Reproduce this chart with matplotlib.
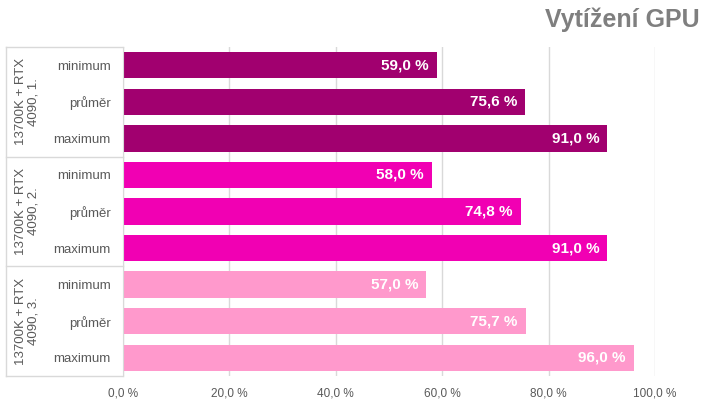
import numpy as np
import matplotlib.pyplot as plt

plt.rcParams['font.family'] = ['Liberation Sans', 'DejaVu Sans']

# data
groups = ['13700K + RTX\n4090, 1.', '13700K + RTX\n4090, 2.', '13700K + RTX\n4090, 3.']
stats = ['minimum', 'průměr', 'maximum']
values_1 = [59.0, 75.6, 91.0]
values_2 = [58.0, 74.8, 91.0]
values_3 = [57.0, 75.7, 96.0]
colors = ['#A1006F', '#F100B3', '#FF99CC']

all_vals = [values_1, values_2, values_3]

fig = plt.figure(figsize=(7.2, 4.05), dpi=100)
ax = fig.add_axes([123 / 720, 1 - 376 / 405, (655 - 123) / 720, (376 - 47) / 405])

grid_c = '#D9D9D9'
txt_c = '#595959'

labels = []
for g, vals in enumerate(all_vals):
    for s, v in enumerate(vals):
        y = g * 3 + s
        ax.barh(y, v, height=0.72, color=colors[g], zorder=2)
        ax.text(v - 1.5, y, '{:.1f} %'.format(v).replace('.', ','), ha='right', va='center',
                color='white', fontsize=11, fontweight='bold', zorder=3)
        labels.append(stats[s])

ax.set_xlim(0, 100)
ax.set_ylim(8.5, -0.5)
ax.set_yticks(np.arange(9))
ax.set_yticklabels(labels, fontsize=9.5, color=txt_c)
ax.set_xticks(np.arange(0, 101, 20))
ax.set_xticklabels(['{:.1f} %'.format(t).replace('.', ',') for t in range(0, 101, 20)],
                   fontsize=8.5, color=txt_c)
ax.tick_params(axis='y', length=0, pad=9)
ax.tick_params(axis='x', length=0, pad=8)
ax.xaxis.grid(True, color=grid_c, linewidth=1, zorder=0)

for sp in ['top', 'right', 'bottom']:
    ax.spines[sp].set_visible(False)
ax.spines['left'].set_color(grid_c)

# left table with group labels
x_left = -0.22
trans = ax.get_yaxis_transform()
for yb in [-0.5, 2.5, 5.5, 8.5]:
    ax.plot([x_left, 0], [yb, yb], color=grid_c, lw=1, transform=trans, clip_on=False)
ax.plot([x_left, x_left], [-0.5, 8.5], color=grid_c, lw=1, transform=trans, clip_on=False)
for g, name in enumerate(groups):
    ax.text(-0.18, g * 3 + 1, name, rotation=90, ha='center', va='center', ma='center',
            fontsize=9.5, color=txt_c, transform=trans, linespacing=1.05)

fig.text(700 / 720, 1 - 20 / 405, 'Vytížení GPU', ha='right', va='center',
         fontsize=18, fontweight='bold', color='#7F7F7F')

fig.savefig('out.png', dpi=100)
